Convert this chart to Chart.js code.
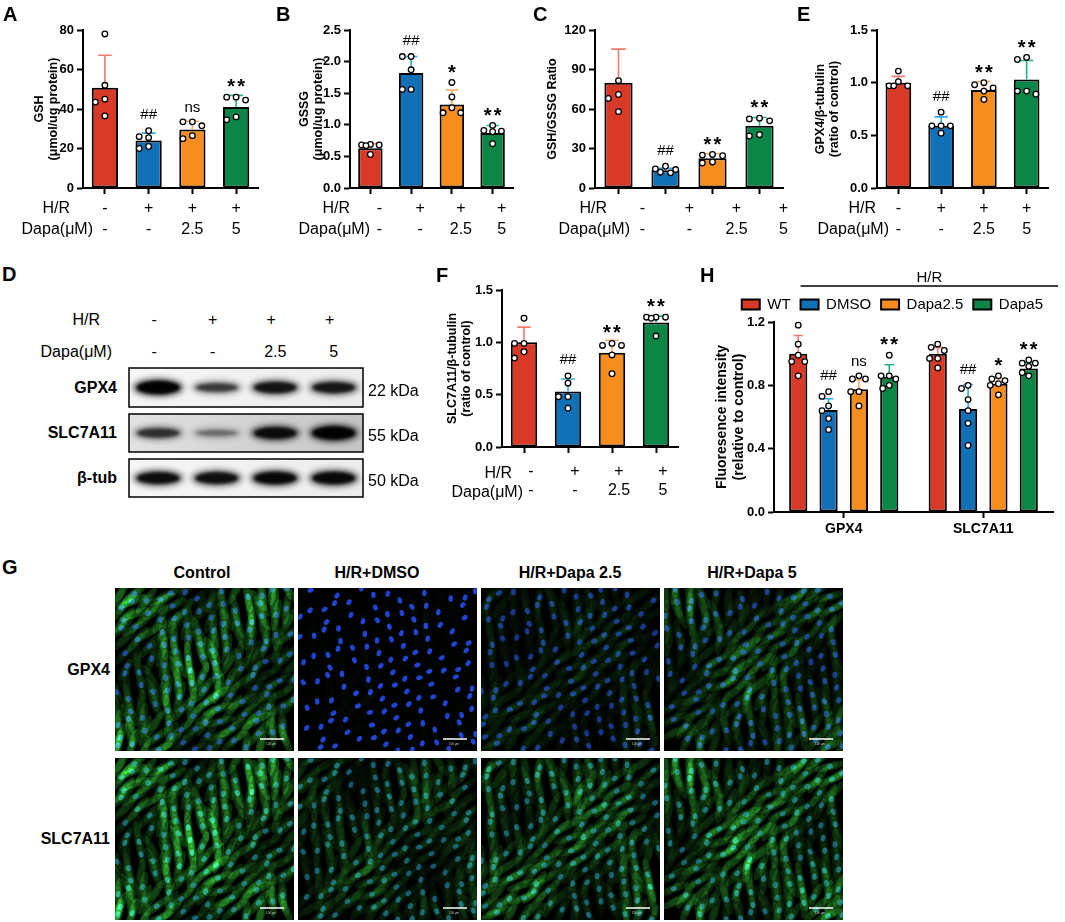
<!DOCTYPE html>
<html>
<head>
<meta charset="utf-8">
<title>Dapa H/R figure</title>
<script src="https://cdn.jsdelivr.net/npm/chart.js@4.4.1/dist/chart.umd.min.js"></script>
<style>
  body { margin: 0; background: #fff; }
  #fig { position: relative; width: 1065px; height: 922px; overflow: hidden; background: #fff;
         font-family: "Liberation Sans", Arial, sans-serif; color: #000; }
  #fig canvas { position: absolute; }
  .t { position: absolute; white-space: nowrap; line-height: 1; }
</style>
</head>
<body>
<div id="fig">
  <canvas id="cA" width="265" height="245" style="left:0px;top:0px"></canvas>
  <canvas id="cB" width="258" height="245" style="left:262px;top:0px"></canvas>
  <canvas id="cC" width="260" height="245" style="left:530px;top:0px"></canvas>
  <canvas id="cE" width="262" height="245" style="left:795px;top:0px"></canvas>
  <canvas id="cF" width="245" height="245" style="left:440px;top:255px"></canvas>
  <canvas id="cH" width="375" height="290" style="left:690px;top:255px"></canvas>
  <canvas id="blot" width="245" height="140" style="left:125px;top:362px"></canvas>
  <canvas id="micro" width="728" height="332" style="left:115px;top:588px"></canvas>
</div>
<script>
var FONT = '"Liberation Sans", Arial, sans-serif';
Chart.defaults.font.family = FONT;
Chart.defaults.color = '#000';

// ---- data ----
var hrRow = ['-', '+', '+', '+'];
var dapaRow = ['-', '-', '2.5', '5'];
var groupColors = ['#D93A27', '#1270B7', '#F68D1E', '#0B8647'];
var errColors = ['#F27A6E', '#2EAAE1', '#F9AA66', '#25B28B'];

// A: GSH
var gshMean = [50.8, 24.1, 29.6, 41.0];
var gshSD = [16.4, 3.7, 4.2, 5.9];
var gshPts = [[78, 52, 45, 43.5, 36.5], [29, 26, 25.5, 21, 20], [33.5, 33.5, 31.5, 26.5, 25], [46, 46, 44.5, 36, 34.5]];
var gshMarks = ['', '##', 'ns', '**'];
var gshTicks = [0, 20, 40, 60, 80];

// B: GSSG
var gssgMean = [0.63, 1.82, 1.32, 0.87];
var gssgSD = [0.07, 0.26, 0.23, 0.12];
var gssgPts = [[0.69, 0.68, 0.68, 0.67, 0.53], [2.08, 2.08, 1.87, 1.56, 1.56], [1.67, 1.44, 1.27, 1.19, 1.19], [0.99, 0.91, 0.90, 0.89, 0.70]];
var gssgMarks = ['', '##', '*', '**'];
var gssgTicks = [0, 0.5, 1.0, 1.5, 2.0, 2.5];

// C: GSH/GSSG ratio
var ratioMean = [80, 13.4, 22.6, 47.2];
var ratioSD = [25.5, 1.5, 3.5, 6.3];
var ratioPts = [[81.5, 71, 68, 58], [16.5, 14.5, 14, 12, 11.5], [25.5, 25, 24.5, 19.8, 19], [53, 52.5, 51, 40.5, 39.5]];
var ratioMarks = ['', '##', '**', '**'];
var ratioTicks = [0, 30, 60, 90, 120];

// E: GPX4/beta-tubulin
var gpxMean = [1.0, 0.59, 0.93, 1.03];
var gpxSD = [0.06, 0.085, 0.08, 0.18];
var gpxPts = [[1.11, 1.01, 0.97, 0.97, 0.97], [0.72, 0.59, 0.59, 0.59, 0.52], [1.0, 0.98, 0.95, 0.92, 0.84], [1.24, 1.22, 0.92, 0.92, 0.89]];
var gpxMarks = ['', '##', '**', '**'];

// F: SLC7A11/beta-tubulin
var slcMean = [1.0, 0.53, 0.90, 1.19];
var slcSD = [0.145, 0.12, 0.12, 0.06];
var slcPts = [[1.23, 0.99, 0.99, 0.91, 0.85], [0.68, 0.61, 0.48, 0.48, 0.37], [0.99, 0.97, 0.97, 0.88, 0.70], [1.24, 1.24, 1.24, 1.23, 1.06]];
var slcMarks = ['', '##', '**', '**'];
var ratioCtlTicks = [0, 0.5, 1.0, 1.5];

// H: fluorescence intensity
var fluoCats = ['GPX4', 'SLC7A11'];
var fluoGroups = ['WT', 'DMSO', 'Dapa2.5', 'Dapa5'];
var fluoMean = [[1.0, 1.0], [0.645, 0.65], [0.775, 0.81], [0.855, 0.907]];
var fluoSD = [[0.115, 0.04], [0.07, 0.155], [0.06, 0.035], [0.075, 0.037]];
var fluoPts = [
  [[1.18, 1.06, 0.99, 0.95, 0.95, 0.86], [1.06, 1.04, 1.02, 0.97, 0.97, 0.91]],
  [[0.76, 0.73, 0.67, 0.64, 0.59, 0.52], [0.80, 0.78, 0.71, 0.64, 0.56, 0.42]],
  [[0.86, 0.84, 0.84, 0.76, 0.76, 0.67], [0.86, 0.84, 0.83, 0.81, 0.80, 0.74]],
  [[0.99, 0.86, 0.86, 0.84, 0.80, 0.78], [0.96, 0.94, 0.94, 0.92, 0.88, 0.86]]
];
var fluoMarks = [['', ''], ['##', '##'], ['ns', '*'], ['**', '**']];
var fluoTicks = [0, 0.4, 0.8, 1.2];

// D: western blot band strength per lane
var gpx4Band = [1.0, 0.5, 0.78, 0.75];
var slcBand = [0.55, 0.2, 0.85, 1.0];
var tubBand = [0.85, 0.82, 0.9, 0.9];
var blotRows = ['GPX4', 'SLC7A11', 'β-tub'];
var blotKda = ['22 kDa', '55 kDa', '50 kDa'];

// G: immunofluorescence
var microCols = ['Control', 'H/R+DMSO', 'H/R+Dapa 2.5', 'H/R+Dapa 5'];
var microRows = ['GPX4', 'SLC7A11'];
var greenLevel = [[0.95, 0.05, 0.28, 0.6], [1.0, 0.45, 0.68, 0.8]];

// ---- error bars, dots and significance marks ----
var errDots = {
  id: 'errDots',
  afterDatasetsDraw: function (chart) {
    var ctx = chart.ctx, ys = chart.scales.y, r = 2.8;
    chart.data.datasets.forEach(function (ds, d) {
      chart.getDatasetMeta(d).data.forEach(function (bar, i) {
        var ec = errColors[groupColors.indexOf(bar.options.backgroundColor)];
        var cx = bar.x;
        var yErr = ys.getPixelForValue(ds.data[i] + ds.sd[i]);
        var cap = bar.width * 0.26;
        ctx.save();
        ctx.strokeStyle = ec;
        ctx.lineWidth = 1.6;
        ctx.beginPath();
        ctx.moveTo(cx, bar.y);
        ctx.lineTo(cx, yErr);
        ctx.moveTo(cx - cap, yErr);
        ctx.lineTo(cx + cap, yErr);
        ctx.stroke();

        // simple swarm so equal values sit side by side
        var offs = [0, -0.36, 0.36, -0.18, 0.18, -0.45, 0.45, -0.27, 0.27];
        var placed = [];
        ds.pts[i].slice().sort(function (a, b) { return b - a; }).forEach(function (v) {
          var py = ys.getPixelForValue(v), best = null, bestD = -1;
          for (var k = 0; k < offs.length; k++) {
            var px = cx + offs[k] * bar.width, md = 1e9;
            placed.forEach(function (p) { md = Math.min(md, Math.hypot(p[0] - px, p[1] - py)); });
            if (md >= 2 * r + 1) { best = px; break; }
            if (md > bestD) { bestD = md; best = px; }
          }
          placed.push([best, py]);
        });
        ctx.fillStyle = '#fff';
        ctx.strokeStyle = '#000';
        ctx.lineWidth = 1.3;
        placed.forEach(function (p) {
          ctx.beginPath();
          ctx.arc(p[0], p[1], r, 0, Math.PI * 2);
          ctx.fill();
          ctx.stroke();
        });

        var mk = ds.marks[i];
        if (mk) {
          var topY = yErr;
          placed.forEach(function (p) { topY = Math.min(topY, p[1] - r); });
          ctx.fillStyle = '#000';
          ctx.textAlign = 'center';
          if (mk.charAt(0) === '*') {
            ctx.font = 'bold 20px ' + FONT;
            ctx.textBaseline = 'alphabetic';
            for (var j = 0; j < mk.length; j++) {
              ctx.fillText('*', cx + (j - (mk.length - 1) / 2) * 10, topY - 12 + 11);
            }
          } else {
            ctx.font = '15px ' + FONT;
            ctx.textBaseline = 'middle';
            ctx.fillText(mk, cx, topY - (mk === 'ns' ? 11 : 13));
          }
        }
        ctx.restore();
      });
    });
  }
};

// bracket line "H/R" over the treated groups of panel H
var hrLine = {
  id: 'hrLine',
  afterDraw: function (chart) {
    var ctx = chart.ctx, hb = chart.legend.legendHitBoxes;
    var x0 = hb[1].left, x1 = chart.width - 7, y = chart.legend.top - 1;
    ctx.save();
    ctx.strokeStyle = '#000';
    ctx.lineWidth = 1.3;
    ctx.beginPath();
    ctx.moveTo(x0, y);
    ctx.lineTo(x1, y);
    ctx.stroke();
    ctx.fillStyle = '#000';
    ctx.font = '15px ' + FONT;
    ctx.textAlign = 'center';
    ctx.textBaseline = 'middle';
    ctx.fillText('H/R', (x0 + x1) / 2, y - 8);
    ctx.restore();
  }
};

function barPanel(id, cfg) {
  return new Chart(document.getElementById(id), {
    type: 'bar',
    data: { labels: cfg.labels, datasets: cfg.datasets },
    options: {
      responsive: false,
      animation: false,
      events: [],
      layout: { padding: { top: cfg.top, right: cfg.right, left: 0, bottom: 0 } },
      plugins: {
        legend: cfg.legend || { display: false },
        tooltip: { enabled: false }
      },
      scales: {
        x: {
          grid: { drawOnChartArea: false, offset: false, tickLength: 6, tickWidth: 2, tickColor: '#000' },
          border: { color: '#000', width: 2 },
          ticks: { color: '#000', font: cfg.xFont, padding: cfg.xPad, maxRotation: 0, autoSkip: false,
                   labelOffset: cfg.xShift || 0 },
          afterFit: function (s) { s.height = cfg.xh; }
        },
        y: {
          min: cfg.yTicks[0],
          max: cfg.yTicks[cfg.yTicks.length - 1],
          grid: { drawOnChartArea: false, tickLength: 6, tickWidth: 2, tickColor: '#000' },
          border: { color: '#000', width: 2 },
          ticks: {
            color: '#000', font: { size: 13, weight: 'bold' }, padding: 3,
            callback: function (v) { return cfg.dec ? Number(v).toFixed(1) : String(v); }
          },
          afterBuildTicks: function (s) { s.ticks = cfg.yTicks.map(function (v) { return { value: v }; }); },
          afterFit: function (s) { s.width = cfg.yw; },
          title: {
            display: true, text: cfg.title, color: '#000',
            font: cfg.titleFont || { size: 12.5, weight: 'bold', lineHeight: 1.15 },
            padding: { top: cfg.tp, bottom: 0 }
          }
        }
      }
    },
    plugins: cfg.extra ? [errDots, cfg.extra] : [errDots]
  });
}

var doseLabels = hrRow.map(function (h, i) { return [h, dapaRow[i]]; });
var doseFont = { size: 16, lineHeight: 1.3 };

function oneSeries(mean, sd, pts, marks) {
  return [{
    data: mean, sd: sd, pts: pts, marks: marks,
    backgroundColor: groupColors, borderColor: '#000', borderWidth: 2, borderSkipped: false,
    barPercentage: 0.6, categoryPercentage: 1
  }];
}

barPanel('cA', { labels: doseLabels, datasets: oneSeries(gshMean, gshSD, gshPts, gshMarks),
  yTicks: gshTicks, title: ['GSH', '(μmol/ug protein)'], tp: 32, yw: 83, top: 30, right: 7,
  xh: 57, xPad: 4, xFont: doseFont });
barPanel('cB', { labels: doseLabels, datasets: oneSeries(gssgMean, gssgSD, gssgPts, gssgMarks),
  yTicks: gssgTicks, dec: true, title: ['GSSG', '(μmol/ug protein)'], tp: 35, yw: 88, top: 30, right: 7,
  xh: 57, xPad: 4, xFont: doseFont, xShift: 9 });
barPanel('cC', { labels: doseLabels, datasets: oneSeries(ratioMean, ratioSD, ratioPts, ratioMarks),
  yTicks: ratioTicks, title: 'GSH/GSSG Ratio', tp: 15, yw: 65, top: 30, right: 7,
  xh: 57, xPad: 4, xFont: doseFont, xShift: 24 });
barPanel('cE', { labels: doseLabels, datasets: oneSeries(gpxMean, gpxSD, gpxPts, gpxMarks),
  yTicks: ratioCtlTicks, dec: true, title: ['GPX4/β-tubulin', '(ratio of control)'], tp: 18, yw: 82, top: 30, right: 9,
  xh: 57, xPad: 4, xFont: doseFont });
barPanel('cF', { labels: doseLabels, datasets: oneSeries(slcMean, slcSD, slcPts, slcMarks),
  yTicks: ratioCtlTicks, dec: true, title: ['SLC7A11/β-tubulin', '(ratio of control)'], tp: 5, yw: 62, top: 35, right: 7,
  xh: 53, xPad: 9, xFont: { size: 16, lineHeight: 1.2 }, xShift: 7 });

barPanel('cH', {
  labels: fluoCats,
  datasets: fluoGroups.map(function (g, k) {
    return {
      label: g, data: fluoMean[k], sd: fluoSD[k], pts: fluoPts[k], marks: fluoMarks[k],
      backgroundColor: groupColors[k], borderColor: '#000', borderWidth: 2, borderSkipped: false,
      barPercentage: 0.6, categoryPercentage: 0.87
    };
  }),
  legend: {
    display: true, position: 'top', align: 'end',
    labels: { color: '#000', font: { size: 15 }, boxWidth: 18, boxHeight: 10, padding: 10 }
  },
  yTicks: fluoTicks, dec: true, title: ['Fluoresence intensity', '(relative to control)'],
  titleFont: { size: 14, weight: 'bold', lineHeight: 1.25 }, tp: 23, yw: 84, top: 32, right: 12,
  xh: 33, xPad: 3, xFont: { size: 14, weight: 'bold' }, extra: hrLine
});

// ---- text labels placed on the page ----
var fig = document.getElementById('fig');
function put(txt, x, y, size, bold, align) {
  var el = document.createElement('div');
  el.className = 't';
  el.textContent = txt;
  el.style.left = x + 'px';
  el.style.top = y + 'px';
  el.style.fontSize = size + 'px';
  if (bold) el.style.fontWeight = 'bold';
  var tx = align === 'right' ? '-100%' : (align === 'left' ? '0' : '-50%');
  el.style.transform = 'translate(' + tx + ',-50%)';
  fig.appendChild(el);
}

put('A', 3, 14, 20, true, 'left');
put('B', 276, 14, 20, true, 'left');
put('C', 533, 14, 20, true, 'left');
put('E', 797, 14, 20, true, 'left');
put('D', 2, 274, 20, true, 'left');
put('F', 436, 275, 20, true, 'left');
put('H', 700, 275, 20, true, 'left');
put('G', 2, 567, 20, true, 'left');

// row headers under the dose axes
[[70, 93], [350, 370], [607, 630], [876, 889]].forEach(function (p) {
  put('H/R', p[0], 208, 16, false, 'right');
  put('Dapa(μM)', p[1], 229, 16, false, 'right');
});
put('H/R', 512, 473, 16, false, 'right');
put('Dapa(μM)', 523, 492, 16, false, 'right');

// ---- D: western blot ----
var bc = document.getElementById('blot').getContext('2d');
var boxL = 4, boxW = 234;
var rowTops = [6, 52, 97], rowH = [39, 38, 38];
var bands = [gpx4Band, slcBand, tubBand];
var laneX = hrRow.map(function (h, i) { return boxL + (i + 0.5) * boxW / hrRow.length; });

laneX.forEach(function (x, i) {
  put(hrRow[i], 125 + x - 4, 320, 16, false, 'center');
  put(dapaRow[i], 125 + x - (i < 2 ? 4 : 0), 352, 16, false, 'center');
});
put('H/R', 100, 320, 16, false, 'right');
put('Dapa(μM)', 112, 352, 16, false, 'right');

rowTops.forEach(function (t, r) {
  var g = bc.createLinearGradient(boxL, 0, boxL + boxW, 0);
  if (r === 1) { g.addColorStop(0, '#e2e2e2'); g.addColorStop(1, '#c4c4c4'); }
  else { g.addColorStop(0, '#f6f6f6'); g.addColorStop(1, '#ececec'); }
  bc.fillStyle = g;
  bc.fillRect(boxL, t, boxW, rowH[r]);
  bc.save();
  bc.beginPath();
  bc.rect(boxL, t, boxW, rowH[r]);
  bc.clip();
  bands[r].forEach(function (v, i) {
    var cy = t + rowH[r] / 2;
    var hh = 6 + 9 * v;
    bc.filter = 'blur(3px)';
    bc.fillStyle = 'rgba(0,0,0,' + (0.2 + 0.6 * v) + ')';
    bc.beginPath();
    bc.ellipse(laneX[i], cy, 25, hh / 2 + 1, 0, 0, Math.PI * 2);
    bc.fill();
    bc.filter = 'blur(1.5px)';
    bc.fillStyle = 'rgba(0,0,0,' + (0.15 + 0.8 * v) + ')';
    bc.beginPath();
    bc.ellipse(laneX[i], cy, 21, hh / 2 - 1, 0, 0, Math.PI * 2);
    bc.fill();
  });
  bc.restore();
  bc.strokeStyle = '#000';
  bc.lineWidth = 1.5;
  bc.strokeRect(boxL, t, boxW, rowH[r]);
  put(blotRows[r], 117, 362 + t + rowH[r] / 2, 16, true, 'right');
  put(blotKda[r], 368, 362 + t + rowH[r] / 2 + 3, 16, false, 'left');
});

// ---- G: fluorescence micrographs ----
var mc = document.getElementById('micro').getContext('2d');
var colX = [0, 183, 366, 549], colW = 179, rowY = [0, 170], rowHt = [163, 162];
var colTitleX = [202, 377, 570, 752];

function drawField(x0, y0, w, h, green, row, col) {
  mc.save();
  mc.beginPath();
  mc.rect(x0, y0, w, h);
  mc.clip();
  mc.fillStyle = '#000';
  mc.fillRect(x0, y0, w, h);
  mc.globalCompositeOperation = 'lighter';
  var nuc = row === 0 ? [35, 70, 235] : [30, 120, 185];
  for (var n = 1; n <= 175; n++) {
    var u = (0.5 + 0.7548776662 * n + 0.13 * col) % 1, v = (0.5 + 0.5698402910 * n + 0.29 * col) % 1;
    var px = x0 + u * w, py = y0 + v * h;
    var ang = -1.2 + 0.6 * Math.sin(u * 5 + v * 6 + col) + 0.35 * Math.sin(n * 2.3);
    var patch = 0.25 + 0.75 * (0.5 + 0.5 * Math.sin(u * 8 + 1 + col) * Math.cos(v * 6 - col));
    mc.save();
    mc.translate(px, py);
    mc.rotate(ang);
    mc.fillStyle = 'rgba(40,150,40,' + (0.42 * green * patch) + ')';
    mc.beginPath();
    mc.ellipse(0, 0, 16, 4.2, 0, 0, Math.PI * 2);
    mc.fill();
    mc.fillStyle = 'rgba(45,170,50,' + (0.22 * green * patch) + ')';
    mc.beginPath();
    mc.ellipse(0, 0, 8, 3, 0, 0, Math.PI * 2);
    mc.fill();
    if (n % 4 !== 0) {
      mc.fillStyle = 'rgba(' + nuc[0] + ',' + nuc[1] + ',' + nuc[2] + ',' + (row === 0 && col === 1 ? 0.9 : 0.6) + ')';
      mc.beginPath();
      mc.ellipse(0, 0, 3.2, 2.3, 0, 0, Math.PI * 2);
      mc.fill();
    }
    mc.restore();
  }
  mc.globalCompositeOperation = 'source-over';
  mc.strokeStyle = '#fff';
  mc.lineWidth = 1.5;
  mc.beginPath();
  mc.moveTo(x0 + w - 34, y0 + h - 12);
  mc.lineTo(x0 + w - 10, y0 + h - 12);
  mc.stroke();
  mc.fillStyle = '#ccc';
  mc.font = '3px ' + FONT;
  mc.fillText('100 μm', x0 + w - 28, y0 + h - 6);
  mc.restore();
}

microRows.forEach(function (name, r) {
  colX.forEach(function (x, c) {
    drawField(x, rowY[r], colW, rowHt[r], greenLevel[r][c], r, c);
  });
  put(name, 110, 588 + rowY[r] + rowHt[r] / 2, 16, true, 'right');
});
microCols.forEach(function (name, c) {
  put(name, colTitleX[c], 573, 16, true, 'center');
});
</script>
</body>
</html>
